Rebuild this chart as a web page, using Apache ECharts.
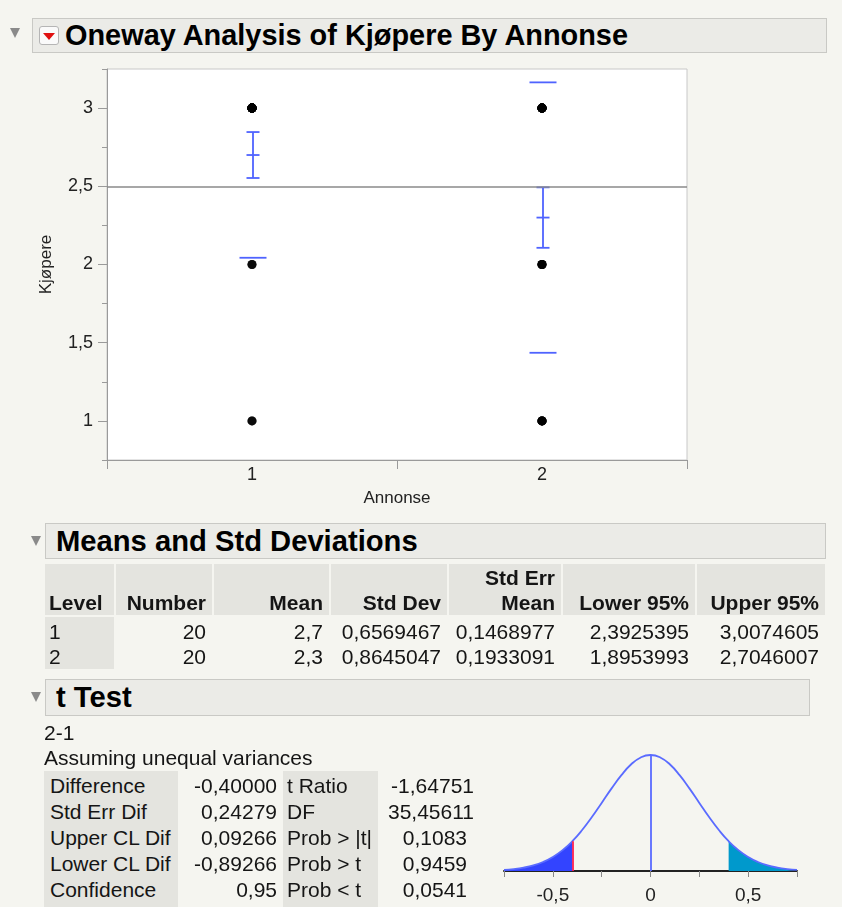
<!DOCTYPE html>
<html><head><meta charset="utf-8">
<script src="https://cdn.jsdelivr.net/npm/echarts@6/dist/echarts.min.js"></script>
<style>
body{margin:0;background:#f5f5f0;font-family:"Liberation Sans",Arial,sans-serif;}
#wrap{position:relative;width:842px;height:907px;overflow:hidden;}
#chart{position:absolute;left:0;top:0;width:842px;height:907px;}
.hdr{position:absolute;background:#ebebe7;border:1px solid #c9c9c5;box-sizing:border-box;}
.htxt{position:absolute;font-weight:bold;font-size:29.2px;color:#000;white-space:nowrap;}
.tri{position:absolute;width:0;height:0;border-left:5px solid transparent;border-right:5px solid transparent;border-top:10px solid #8a8a8a;}
.cell{position:absolute;background:#e4e4df;}
.t{position:absolute;font-size:21px;line-height:26px;color:#151515;white-space:nowrap;}
.b{font-weight:bold;}
.dd{position:absolute;left:39px;top:26px;width:20px;height:19px;box-sizing:border-box;border:1px solid #b5b5b5;border-radius:3px;background:#fafafa;}
.dd:after{content:"";position:absolute;left:3px;top:6px;border-left:6px solid transparent;border-right:6px solid transparent;border-top:7px solid #e01010;}
</style></head>
<body><div id="wrap"><div id="chart"></div></div>
<script>
// ---------- data ----------
const categories = ['1', '2'];
const group1Values = [1,1,2,2,3,3,3,3,3,3,3,3,3,3,3,3,3,3,3,3];
const group2Values = [1,1,1,1,1,2,2,2,2,3,3,3,3,3,3,3,3,3,3,3];
const means = [2.7, 2.3];
const stdDevs = [0.6569467, 0.8645047];
const stdErrs = [0.1468977, 0.1933091];
const grandMean = 2.5;
const yTickValues = [1, 1.5, 2, 2.5, 3];
const yMinorTickValues = [0.75, 1.25, 1.75, 2.25, 2.75, 3.25];

const tableHeaders = [['','Level'],['','Number'],['','Mean'],['','Std Dev'],['Std Err','Mean'],['','Lower 95%'],['','Upper 95%']];
const levels = ['1', '2'];
const numberCol = ['20', '20'];
const meanCol = ['2,7', '2,3'];
const stdDevCol = ['0,6569467', '0,8645047'];
const stdErrCol = ['0,1468977', '0,1933091'];
const lower95Col = ['2,3925395', '1,8953993'];
const upper95Col = ['3,0074605', '2,7046007'];

const tLabels1 = ['Difference','Std Err Dif','Upper CL Dif','Lower CL Dif','Confidence'];
const tValues1 = ['-0,40000','0,24279','0,09266','-0,89266','0,95'];
const tLabels2 = ['t Ratio','DF','Prob > |t|','Prob > t','Prob < t'];
const tValues2 = ['-1,64751','35,45611','0,1083','0,9459','0,0541'];

const tDifference = -0.4;
const densityX = [-0.75,-0.70,-0.65,-0.60,-0.55,-0.50,-0.45,-0.40,-0.35,-0.30,-0.25,-0.20,-0.15,-0.10,-0.05,0,
                  0.05,0.10,0.15,0.20,0.25,0.30,0.35,0.40,0.45,0.50,0.55,0.60,0.65,0.70,0.75];
const densityY = [0.010,0.017,0.029,0.048,0.078,0.121,0.180,0.257,0.353,0.465,0.587,0.710,0.824,0.918,0.979,1.000,
                  0.979,0.918,0.824,0.710,0.587,0.465,0.353,0.257,0.180,0.121,0.078,0.048,0.029,0.017,0.010];
const densityTicks = [-0.75,-0.5,-0.25,0,0.25,0.5,0.75];
const densityLabels = [-0.5, 0, 0.5];

// ---------- HTML parts ----------
const wrap = document.getElementById('wrap');
function el(cls, style, text){
  const d = document.createElement('div'); d.className = cls;
  Object.assign(d.style, style); if (text !== undefined) d.textContent = text;
  wrap.appendChild(d); return d;
}
function px(v){return v + 'px';}
// headers
el('tri', {left:px(10), top:px(28)});
el('hdr', {left:px(32), top:px(18), width:px(795), height:px(35)});
el('dd', {});
el('htxt', {left:px(65), top:px(18), lineHeight:'35px', fontSize:'28.9px'}, 'Oneway Analysis of Kjøpere By Annonse');

el('tri', {left:px(31), top:px(536)});
el('hdr', {left:px(45), top:px(523), width:px(781), height:px(36)});
el('htxt', {left:px(56), top:px(523), lineHeight:'36px'}, 'Means and Std Deviations');

el('tri', {left:px(31), top:px(692)});
el('hdr', {left:px(45), top:px(679), width:px(765), height:px(37)});
el('htxt', {left:px(56), top:px(679), lineHeight:'37px'}, 't Test');

// means table
const cols = [[45,114],[116,212],[214,329],[331,447],[449,561],[563,695],[697,825]];
const dataCols = [levels, numberCol, meanCol, stdDevCol, stdErrCol, lower95Col, upper95Col];
el('cell', {left:px(45), top:px(617), width:px(69), height:px(52)});
cols.forEach((c, i) => {
  el('cell', {left:px(c[0]), top:px(564), width:px(c[1]-c[0]), height:px(51)});
  const align = i === 0 ? {left:px(c[0]+4)} : {right:px(842 - c[1] + 6)};
  if (tableHeaders[i][0]) el('t b', Object.assign({top:px(578-13)}, align), tableHeaders[i][0]);
  el('t b', Object.assign({top:px(603-13)}, align), tableHeaders[i][1]);
  dataCols[i].forEach((v, r) => {
    el('t', Object.assign({top:px(632 + r*25 - 13)}, align), v);
  });
});

// t test
el('t', {left:px(44), top:px(733-13)}, '2-1');
el('t', {left:px(44), top:px(758-13)}, 'Assuming unequal variances');
el('cell', {left:px(44), top:px(771), width:px(134), height:px(136)});
el('cell', {left:px(283), top:px(771), width:px(95), height:px(136)});
const rightEdges2 = [474, 474, 467, 467, 467];
tLabels1.forEach((lab, r) => {
  const top = 786 + r*26 - 13;
  el('t', {left:px(50), top:px(top)}, lab);
  el('t', {right:px(842-277), top:px(top)}, tValues1[r]);
  el('t', {left:px(287), top:px(top)}, tLabels2[r]);
  el('t', {right:px(842-rightEdges2[r]), top:px(top)}, tValues2[r]);
});

// ---------- chart ----------
const fmt = v => String(v).replace('.', ',');
const densPts = densityX.map((x, i) => [x, densityY[i]]);
const yAt = x => densityY[densityX.findIndex(v => Math.abs(v - x) < 1e-9)];
const leftTail = densPts.filter(p => p[0] <= tDifference + 1e-9);
const rightTail = densPts.filter(p => p[0] >= -tDifference - 1e-9);
const blue = '#4f63ff';

const chart = echarts.init(document.getElementById('chart'), null, {renderer:'canvas'});
chart.setOption({
  animation:false,
  backgroundColor:'transparent',
  textStyle:{fontFamily:'"Liberation Sans", Arial, sans-serif'},
  grid:[
    {left:107, top:69, width:580, height:391, show:true, backgroundColor:'#ffffff', borderColor:'#c8c8c8', borderWidth:1},
    {left:504, top:755, width:293, height:116, show:false}
  ],
  xAxis:[
    {type:'category', gridIndex:0, data:categories, boundaryGap:true,
     axisLine:{lineStyle:{color:'#9a9a9a', width:1}},
     axisTick:{show:true, length:9, lineStyle:{color:'#9a9a9a'}},
     axisLabel:{fontSize:18, color:'#222', margin:6},
     name:'Annonse', nameLocation:'middle', nameGap:30, nameTextStyle:{fontSize:17, color:'#222'}},
    {type:'value', gridIndex:1, min:-0.75, max:0.75,
     axisLine:{lineStyle:{color:'#222', width:2}},
     axisTick:{show:true, length:6, customValues:densityTicks, lineStyle:{color:'#888'}},
     axisLabel:{fontSize:19, color:'#222', margin:15, customValues:densityLabels, formatter:fmt},
     splitLine:{show:false}}
  ],
  yAxis:[
    {type:'value', gridIndex:0, position:'left', min:0.75, max:3.25,
     axisLine:{show:true, lineStyle:{color:'#9a9a9a', width:1}},
     axisTick:{show:true, length:9, customValues:yTickValues, lineStyle:{color:'#9a9a9a'}},
     axisLabel:{fontSize:18, color:'#222', margin:14, customValues:yTickValues, formatter:fmt},
     splitLine:{show:false},
     name:'Kjøpere', nameLocation:'middle', nameGap:52, nameRotate:90, nameTextStyle:{fontSize:17, color:'#222'}},
    {type:'value', gridIndex:0, position:'left', offset:0, min:0.75, max:3.25,
     axisLine:{show:false},
     axisTick:{show:true, length:5, customValues:yMinorTickValues, lineStyle:{color:'#9a9a9a'}},
     axisLabel:{show:false}, splitLine:{show:false}},
    {type:'value', gridIndex:1, min:0, max:1, show:false}
  ],
  series:[
    {type:'scatter', xAxisIndex:0, yAxisIndex:0, symbolSize:9, itemStyle:{color:'#000'},
     data: group1Values.map(v => [categories[0], v]).concat(group2Values.map(v => [categories[1], v])),
     markLine:{silent:true, symbol:'none', label:{show:false}, lineStyle:{color:'#8a8a8a', width:1.5, type:'solid'},
       data:[{yAxis:grandMean}]}, z:3},
    {type:'custom', xAxisIndex:0, yAxisIndex:0, clip:true, z:4,
     data: categories.map((c, i) => [i, means[i], stdErrs[i], stdDevs[i]]),
     renderItem(params, api){
       const i = api.value(0), m = api.value(1), se = api.value(2), sd = api.value(3);
       const c = api.coord([i, m]); const x = c[0] + 1;
       const yLo = api.coord([i, m - se])[1], yHi = api.coord([i, m + se])[1];
       const sLo = api.coord([i, m - sd])[1], sHi = api.coord([i, m + sd])[1];
       const st = {stroke:blue, lineWidth:1.8};
       const ln = (x1, y1, x2, y2) => ({type:'line', shape:{x1, y1, x2, y2}, style:st});
       return {type:'group', children:[
         ln(x, yLo, x, yHi), ln(x-6.5, yLo, x+6.5, yLo), ln(x-6.5, yHi, x+6.5, yHi), ln(x-6.5, c[1], x+6.5, c[1]),
         ln(x-13.5, sLo, x+13.5, sLo), ln(x-13.5, sHi, x+13.5, sHi)
       ]};
     }},
    {type:'line', xAxisIndex:1, yAxisIndex:2, data:leftTail, smooth:true, showSymbol:false,
     lineStyle:{width:0}, areaStyle:{color:'#3344ff', opacity:1}, z:2},
    {type:'line', xAxisIndex:1, yAxisIndex:2, data:rightTail, smooth:true, showSymbol:false,
     lineStyle:{width:0}, areaStyle:{color:'#0099cc', opacity:1}, z:2},
    {type:'line', xAxisIndex:1, yAxisIndex:2, data:densPts, smooth:true, showSymbol:false, clip:false,
     lineStyle:{color:'#5a6bff', width:1.8}, z:3,
     markLine:{silent:true, symbol:'none', label:{show:false},
       data:[
         [{coord:[tDifference, 0], lineStyle:{color:'#ff2050', width:1.8, type:'solid'}}, {coord:[tDifference, yAt(tDifference)]}],
         [{coord:[0, 0], lineStyle:{color:'#5a6bff', width:1.8, type:'solid'}}, {coord:[0, yAt(0)]}]
       ]}}
  ]
});
</script></body></html>
